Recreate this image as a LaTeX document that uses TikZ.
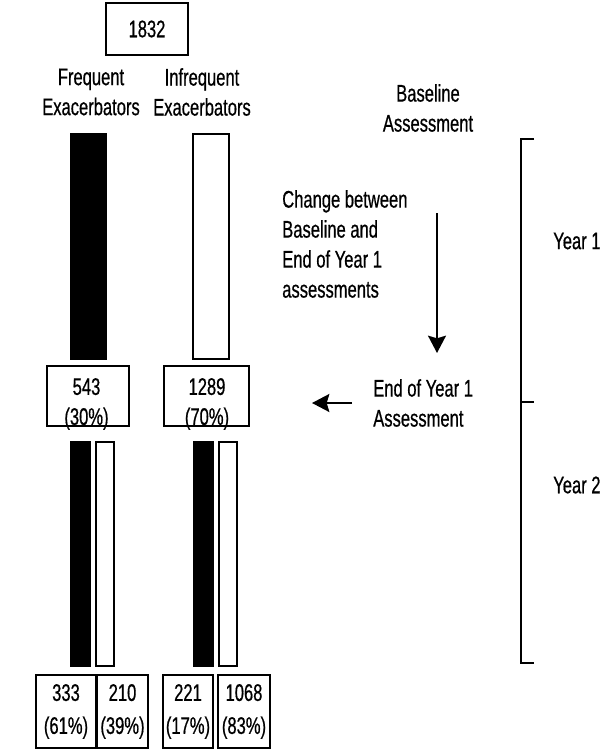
\documentclass[tikz,border=0pt]{standalone}
\usepackage{fontspec}
\setmainfont{Liberation Sans}[FakeStretch=0.69, FakeBold=0.6]
\usetikzlibrary{arrows.meta}
\begin{document}
\begin{tikzpicture}[x=0.75pt,y=-0.75pt,
  txt/.style={inner sep=0pt, align=center, font=\fontsize{18}{22.5}\selectfont},
  ltxt/.style={inner sep=0pt, align=left, anchor=west, font=\fontsize{18}{22.5}\selectfont},
  box/.style={draw, line width=1.5pt, inner sep=0pt, align=center, font=\fontsize{18}{24.75}\selectfont},
  fillbar/.style={draw, fill=black, line width=1.2pt, inner sep=0pt},
  openbar/.style={draw, fill=white, line width=1.5pt, inner sep=0pt},
  arr/.style={line width=1.5pt, -{Stealth[length=13pt, width=13.5pt, inset=2pt]}},
  brk/.style={line width=1.5pt}]
\useasboundingbox (0,0) rectangle (600,749);

% top
\node[box, minimum width=61.5pt, minimum height=39pt] (total) at (147,29) {1832};
\node[txt] (freq) at (91,92) {Frequent\\Exacerbators};
\node[txt] (infreq) at (202,92) {Infrequent\\Exacerbators};
\node[txt] (base) at (428,108) {Baseline\\Assessment};

% big bars
\node[fillbar, minimum width=26.25pt, minimum height=168.75pt] (bb) at (88.5,246.5) {};
\node[openbar, minimum width=27pt, minimum height=168.75pt] (bw) at (211,246.5) {};

% change text and arrow
\node[ltxt] (change) at (282,244) {Change between\\Baseline and\\End of Year 1\\assessments};
\coordinate (dTop) at (437,213);
\coordinate (dBot) at (437,353);
\draw[arr] (dTop) -- (dBot);

% middle boxes
\node[box, minimum width=61.5pt, minimum height=45pt] (m1) at (88,396) {};
\node[txt] (m1t) at (86.5,404) {543\\(30\%)};
\node[box, minimum width=63.75pt, minimum height=45pt] (m2) at (206.5,396) {};
\node[txt] (m2t) at (207,404) {1289\\(70\%)};

% end of year 1
\node[ltxt] (eoy) at (373,403) {End of Year 1\\Assessment};
\coordinate (lStart) at (352,403);
\coordinate (lEnd) at (312,403);
\draw[arr] (lStart) -- (lEnd);

% small bars
\node[fillbar, minimum width=14.25pt, minimum height=168pt] (s1) at (80.5,554) {};
\node[openbar, minimum width=13.5pt, minimum height=168pt] (s2) at (105,554) {};
\node[fillbar, minimum width=14.25pt, minimum height=168pt] (s3) at (203.5,554) {};
\node[openbar, minimum width=13.5pt, minimum height=168pt] (s4) at (228,554) {};

% bottom boxes
\node[box, minimum width=45pt, minimum height=54.75pt] (b1) at (66,711.5) {333\\(61\%)};
\node[box, minimum width=38.25pt, minimum height=54.75pt] (b2) at (122.5,711.5) {210\\(39\%)};
\node[box, minimum width=37.5pt, minimum height=54.75pt] (b3) at (188,711.5) {221\\(17\%)};
\node[box, minimum width=39pt, minimum height=54.75pt] (b4) at (244,711.5) {1068\\(83\%)};

% bracket
\coordinate (k1) at (534,139);
\coordinate (k1b) at (521,139);
\coordinate (k2) at (534,402);
\coordinate (k2b) at (521,402);
\coordinate (k3) at (534,663);
\coordinate (k3b) at (521,663);
\draw[brk] (k1) -- (k1b) -- (k3b) -- (k3);
\draw[brk] (k2b) -- (k2);
\node[ltxt] (y1) at (553,241) {Year 1};
\node[ltxt] (y2) at (553,485) {Year 2};
\end{tikzpicture}
\end{document}
